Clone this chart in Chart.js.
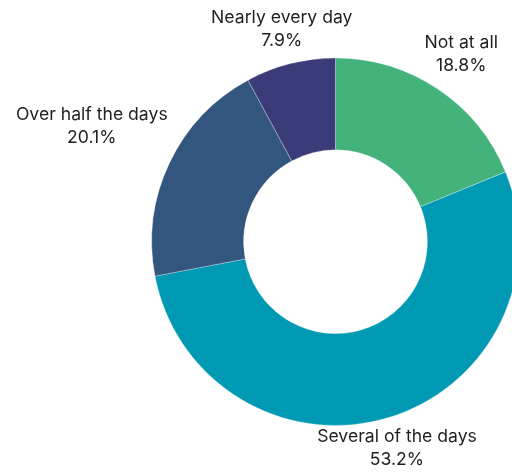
<!DOCTYPE html>
<html>
<head>
<meta charset="utf-8">
<script src="https://cdn.jsdelivr.net/npm/chart.js@4/dist/chart.umd.min.js"></script>
<style>
  html, body { margin: 0; padding: 0; background: #ffffff; overflow: hidden; }
  #wrap { width: 512px; height: 475px; overflow: hidden; position: relative; }
  canvas { display: block; }
</style>
</head>
<body>
<div id="wrap"><canvas id="chart" width="520" height="475"></canvas></div>
<script>
// Survey answers and their shares (percent)
const categories = ["Not at all", "Several of the days", "Over half the days", "Nearly every day"];
const shares = [18.8, 53.2, 20.1, 7.9];
const valueLabels = ["18.8%", "53.2%", "20.1%", "7.9%"];

const sliceColors = ["#43b37b", "#0099b3", "#33567f", "#3a3b78"];
// distance of each label block's centre beyond the outer edge of the ring
const labelGap = [42, 32, 86, 35];

const outsideLabels = {
  id: "outsideLabels",
  afterDatasetsDraw(chart) {
    const ctx = chart.ctx;
    const meta = chart.getDatasetMeta(0);
    ctx.save();
    ctx.font = "17.6px Inter, 'Noto Sans', sans-serif";
    ctx.fillStyle = "#1f1f1f";
    ctx.textAlign = "center";
    ctx.textBaseline = "middle";
    meta.data.forEach((arc, i) => {
      const p = arc.getProps(["x", "y", "startAngle", "endAngle", "outerRadius"], true);
      const mid = (p.startAngle + p.endAngle) / 2;
      const r = p.outerRadius + labelGap[i];
      const cx = p.x + Math.cos(mid) * r;
      const cy = p.y + Math.sin(mid) * r;
      ctx.fillText(categories[i], cx, cy - 11.5);
      ctx.fillText(valueLabels[i], cx, cy + 11.5);
    });
    ctx.restore();
  }
};

new Chart(document.getElementById("chart"), {
  type: "doughnut",
  data: {
    labels: categories,
    datasets: [{
      data: shares,
      backgroundColor: sliceColors,
      borderColor: "rgba(255,255,255,0.6)",
      borderWidth: 0.5,
      hoverOffset: 0
    }]
  },
  options: {
    responsive: false,
    animation: false,
    cutout: "50%",
    rotation: 0,
    layout: { padding: { left: 151.5, top: 57.7, right: 0.5, bottom: 49.3 } },
    plugins: {
      legend: { display: false },
      tooltip: { enabled: false }
    }
  },
  plugins: [outsideLabels]
});
</script>
</body>
</html>
